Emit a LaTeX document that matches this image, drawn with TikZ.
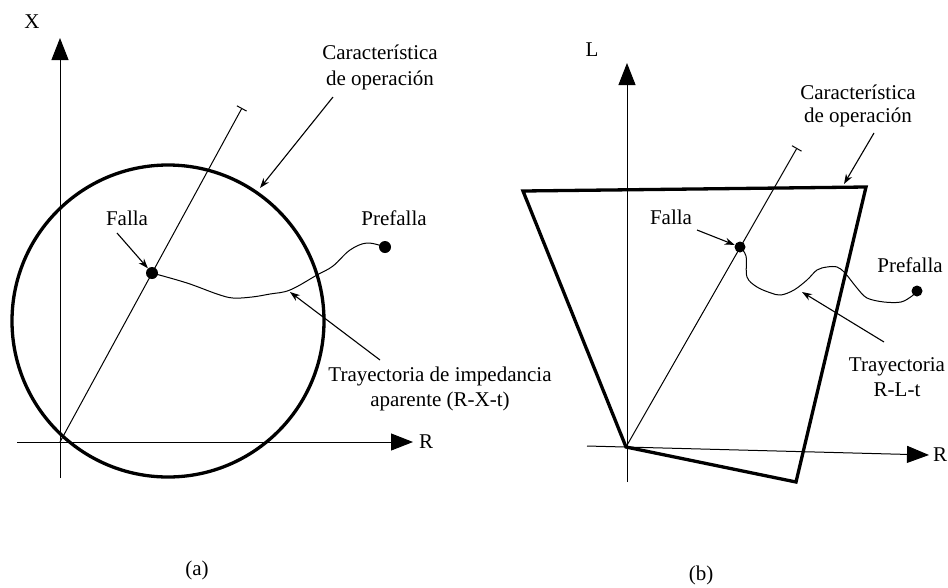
\documentclass[tikz,border=0pt]{standalone}
\usepackage{fontspec}
\setmainfont{Liberation Serif}
\usetikzlibrary{arrows.meta}
\begin{document}
\begin{tikzpicture}[x=1pt,y=-1pt,
  axis/.style={line width=1pt,-{Triangle[length=22pt,width=17pt]}},
  thinline/.style={line width=1pt},
  bound/.style={line width=3.3pt,line join=miter},
  callout/.style={line width=1.1pt,-{Stealth[length=10pt,width=7pt]}},
  ticked/.style={line width=1pt,-{Bar[width=11pt,line width=1pt]}},
  lbl/.style={font=\fontsize{21}{25}\selectfont,inner sep=0pt,align=center},
  dot/.style={circle,fill,inner sep=0pt,minimum size=12pt}]
\useasboundingbox (0,0) rectangle (948,587);

% ---------------- panel (a) ----------------
\coordinate (aO) at (60,442);
\coordinate (aXb) at (60,478);
\coordinate (aXt) at (60,38);
\coordinate (aRl) at (17,442);
\coordinate (aRr) at (413,442);
\draw[axis] (aXb) -- (aXt);
\draw[axis] (aRl) -- (aRr);
\node[lbl] (aXlab) at (32,22) {X};
\node[lbl,anchor=west] (aRlab) at (419,442) {R};

\node[circle,draw,line width=3.3pt,minimum size=312pt,inner sep=0pt] (circ) at (168,321) {};

\coordinate (aT) at (242,108);
\draw[ticked] (aO) -- (aT);

\node[dot] (aF) at (152,273) {};
\node[dot] (aP) at (385,247) {};
\draw[thinline] plot[smooth,tension=0.6] coordinates {(152,273) (187,283) (217,294) (233,298) (252,297) (270,294) (290,290) (317,275) (333,266) (350,250) (367,243) (385,247)};

\node[lbl] (aFlab) at (127,218) {Falla};
\coordinate (aFs) at (117,233);
\draw[callout] (aFs) -- (aF);

\node[lbl] (aPlab) at (394,218) {Prefalla};

\node[lbl,font=\fontsize{21}{26}\selectfont] (aC) at (380,67) {Característica\\de operación};
\coordinate (aCs) at (333,97);
\coordinate (aCe) at (260,188);
\draw[callout] (aCs) -- (aCe);

\node[lbl,font=\fontsize{21}{25}\selectfont] (aTr) at (440,389) {Trayectoria de impedancia\\aparente (R-X-t)};
\coordinate (aTs) at (380,360);
\coordinate (aTe) at (290,292);
\draw[callout] (aTs) -- (aTe);

\node[lbl] (acap) at (197,570) {(a)};

% ---------------- panel (b) ----------------
\coordinate (bO) at (626,447);
\coordinate (bLb) at (627,482);
\coordinate (bLt) at (627,63);
\coordinate (bRl) at (587,446);
\coordinate (bRr) at (929,455);
\draw[axis] (bLb) -- (bLt);
\draw[axis] (bRl) -- (bRr);
\node[lbl] (bLlab) at (592,50) {L};
\node[lbl,anchor=west] (bRlab) at (933,455) {R};

\coordinate (bq1) at (523,191);
\coordinate (bq2) at (866,187);
\coordinate (bq3) at (796,482);
\draw[bound] (bq1) -- (bq2) -- (bq3) -- (bO) -- cycle;

\coordinate (bT) at (797,148);
\draw[ticked] (bO) -- (bT);

\node[dot,minimum size=11pt] (bF) at (740,247) {};
\node[dot,minimum size=11pt] (bP) at (917,291) {};
\draw[thinline] plot[smooth,tension=0.55] coordinates {(740,247) (746,256) (747,277) (757,287) (771,293) (781,295) (794,290) (807,280) (817,270) (827,267) (837,267) (845,273) (857,288) (867,298) (884,302) (901,302) (912,296) (917,291)};

\node[lbl] (bFlab) at (671,217) {Falla};
\coordinate (bFs) at (697,230);
\draw[callout] (bFs) -- (bF);

\node[lbl] (bPlab) at (910,265) {Prefalla};

\node[lbl,font=\fontsize{21}{23}\selectfont] (bC) at (858,106) {Característica\\de operación};
\coordinate (bCs) at (874,133);
\coordinate (bCe) at (844,184);
\draw[callout] (bCs) -- (bCe);

\node[lbl,font=\fontsize{21}{25}\selectfont] (bTr) at (897,377) {Trayectoria\\R-L-t};
\coordinate (bTs) at (884,342);
\coordinate (bTe) at (802,292);
\draw[callout] (bTs) -- (bTe);

\node[lbl] (bcap) at (701,575) {(b)};
\end{tikzpicture}
\end{document}
